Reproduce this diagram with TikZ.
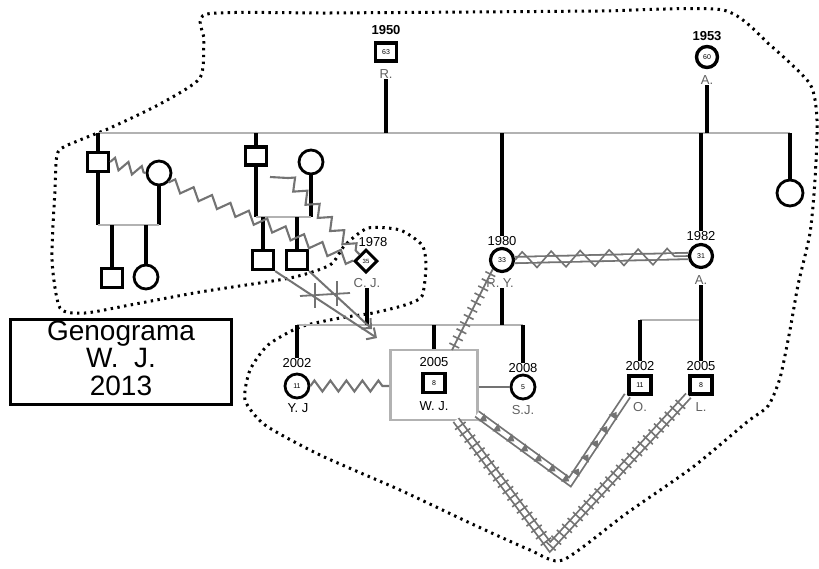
\documentclass[tikz,border=0pt]{standalone}
\usepackage{fontspec}
\setmainfont{Liberation Sans}
\usetikzlibrary{shapes.geometric,decorations.pathmorphing,decorations.markings,arrows.meta}
\definecolor{zg}{gray}{0.45}
\definecolor{hl}{gray}{0.70}
\definecolor{nm}{gray}{0.38}
\begin{document}
\begin{tikzpicture}[x=1pt,y=-1pt,
  sq/.style={draw=black,line width=3.2pt,minimum width=21pt,minimum height=19pt,inner sep=0pt,font=\fontsize{7}{7}\selectfont},
  ci/.style={draw=black,line width=2.8pt,circle,minimum size=24pt,inner sep=0pt,font=\fontsize{7}{7}\selectfont},
  pl/.style={draw=black,line width=3.1pt},
  hline/.style={draw=hl,line width=2.8pt},
  yr/.style={font=\fontsize{13}{13}\selectfont,inner sep=0.5pt},
  yrb/.style={font=\fontsize{13}{13}\selectfont\bfseries,inner sep=0.5pt},
  nmx/.style={font=\fontsize{13}{13}\selectfont,text=nm,inner sep=0.5pt},
  nmb/.style={font=\fontsize{13}{13}\selectfont,text=black,inner sep=0.5pt},
  zz/.style={draw=zg,line width=2.1pt,decorate,decoration={zigzag,segment length=#1,amplitude=5.5pt}},
  zz/.default=16pt,
  bnd/.style={draw=black,line width=3pt,dash pattern=on 2.4pt off 4.4pt},
  dbl/.style={draw=zg,line width=1.8pt,double=white,double distance=4.5pt},
  tri/.style={postaction={decorate,decoration={markings,mark=between positions 0.04 and 0.97 step 17pt with {\fill[zg] (3.5pt,0)--(-3pt,5pt)--(-3pt,-5pt)--cycle;}}}},
  rung/.style={postaction={decorate,decoration={markings,mark=between positions 0.02 and 0.98 step 8pt with {\draw[zg,line width=1.6pt] (0,-6.5pt)--(0,6.5pt);}}}},
  tick/.style={postaction={decorate,decoration={markings,mark=between positions 0.06 and 0.97 step 8pt with {\draw[zg,line width=1.6pt] (0,-5.5pt)--(0,5.5pt);}}}},
  arr/.style={draw=zg,line width=2pt,-{Straight Barb[length=7pt,width=14pt]}}
]
\useasboundingbox (0,0) rectangle (819,568);

% dotted boundary
\draw[bnd] plot[smooth cycle,tension=0.4] coordinates {
 (207,14) (330,13) (470,12) (600,11) (723,10) (770,45) (810,84) (817,120) (815,180)
 (810,233) (798,285) (790,330) (780,378) (768,406) (747,422) (693,467) (627,513) (563,560) (530,550) (470,523)
 (400,490) (320,455) (265,425) (245,400) (250,370) (268,345) (300,327) (340,318) (373,313)
 (405,305) (422,296) (426,265) (422,245) (400,230) (368,228) (345,245) (330,265) (290,278)
 (200,292) (130,305) (85,313) (60,308) (52,260) (55,190) (58,152) (80,140) (110,128)
 (160,104) (200,78) (204,40)};

% legend
\node[draw=black,line width=3.8pt,minimum width=221pt,minimum height=85pt] (leg) at (121,362) {};
\node[font=\fontsize{28}{28}\selectfont,anchor=base,inner sep=0pt] (lg1) at (121,340) {Genograma};
\node[font=\fontsize{28}{28}\selectfont,anchor=base,inner sep=0pt] (lg2) at (121,367) {W.\ \ J.};
\node[font=\fontsize{28}{28}\selectfont,anchor=base,inner sep=0pt] (lg3) at (121,395) {2013};

% top generation
\node[sq,line width=3.4pt,minimum width=21pt,minimum height=18pt] (R) at (386,52) {63};
\node[yrb] (Ryr) at (386,30) {1950};
\node[nmx] (Rn) at (386,74) {R.};
\node[ci,line width=3.4pt,minimum size=21pt] (A1) at (707,57) {60};
\node[yrb] (A1yr) at (707,36) {1953};
\node[nmx] (A1n) at (707,80) {A.};

\coordinate (T1) at (98,133);
\coordinate (T2) at (790,133);
\coordinate (TR) at (386,133);
\coordinate (TA) at (707,133);
\draw[hline] (T1) -- (T2);
\draw[pl] (Rn.south) -- (TR);
\draw[pl] (A1n.south) -- (TA);

% siblings of the second generation
\node[sq] (s1) at (98,162) {};
\node[ci] (w1) at (159,173) {};
\node[sq] (c1a) at (112,278) {};
\node[ci] (c1b) at (146,277) {};
\node[sq,minimum height=18pt] (s2) at (256,156) {};
\node[ci] (w2) at (311,162) {};
\node[sq] (c2a) at (263,260) {};
\node[sq] (c2b) at (297,260) {};
\node[ci,minimum size=26pt] (sis) at (790,193) {};
\draw[pl] (T1) -- (s1.north);
\draw[pl] (s2.north |- T1) -- (s2.north);
\draw[pl] (T2) -- (sis.north);

% family 1
\coordinate (f1a) at (98,225);
\coordinate (f1b) at (159,225);
\draw[pl] (s1.south) -- (f1a);
\draw[pl] (w1.south) -- (f1b);
\draw[hline] (f1a) -- (f1b);
\draw[pl] (c1a.north |- f1a) -- (c1a.north);
\draw[pl] (c1b.north |- f1a) -- (c1b.north);

% family 2
\coordinate (f2a) at (256,217);
\coordinate (f2b) at (311,217);
\draw[pl] (s2.south) -- (f2a);
\draw[pl] (w2.south) -- (f2b);
\draw[hline] (f2a) -- (f2b);
\draw[pl] (c2a.north |- f2a) -- (c2a.north);
\draw[pl] (c2b.north |- f2a) -- (c2b.north);

% R.Y. and A. (1982)
\node[ci,line width=3.2pt,minimum size=23pt] (RY) at (502,260) {33};
\node[yr] (RYyr) at (502,241) {1980};
\node[nmx] (RYn) at (500,283) {R. Y.};
\node[ci,line width=3.2pt,minimum size=23pt] (A2) at (701,256) {31};
\node[yr] (A2yr) at (701,236) {1982};
\node[nmx] (A2n) at (701,280) {A.};
\draw[pl] (RYyr.north |- T1) -- (RYyr.north);
\draw[pl] (A2yr.north |- T1) -- (A2yr.north);

% C. J.
\node[diamond,draw=black,line width=3pt,minimum width=23pt,minimum height=23pt,inner sep=0pt,font=\fontsize{6}{6}\selectfont] (CJ) at (366,261) {35};
\node[yr] (CJyr) at (373,242) {1978};
\node[nmx] (CJn) at (367,283) {C. J.};

% third generation
\coordinate (b1) at (297,325);
\coordinate (b2) at (523,325);
\draw[hline] (b1) -- (b2);
\draw[pl] (CJn.south) -- (CJn.south |- b1);
\draw[pl] (RYn.south -| RY) -- (RY |- b1);

\node[ci] (YJ) at (297,386) {11};
\node[yr] (YJyr) at (297,363) {2002};
\node[nmb] (YJn) at (298,408) {Y. J};
\node[draw=hl,line width=2.8pt,minimum width=87pt,minimum height=70pt] (WJb) at (434,385) {};
\node[sq,line width=3.6pt,minimum width=22pt,minimum height=19pt] (WJ) at (434,383) {8};
\node[yr] (WJyr) at (434,362) {2005};
\node[nmb] (WJn) at (434,406) {W. J.};
\node[ci] (SJ) at (523,387) {5};
\node[yr] (SJyr) at (523,368) {2008};
\node[nmx] (SJn) at (523,410) {S.J.};
\draw[pl] (b1) -- (YJyr.north);
\draw[pl] (WJb.north |- b1) -- (WJb.north);
\draw[pl] (b2) -- (SJyr.north);

\node[sq,minimum width=22pt,minimum height=18pt] (O) at (640,385) {11};
\node[yr] (Oyr) at (640,366) {2002};
\node[nmx] (On) at (640,407) {O.};
\node[sq,minimum width=22pt,minimum height=18pt] (L) at (701,385) {8};
\node[yr] (Lyr) at (701,366) {2005};
\node[nmx] (Ln) at (701,407) {L.};
\coordinate (a1) at (640,320);
\coordinate (a2) at (701,320);
\draw[hline] (a1) -- (a2);
\draw[pl] (A2n.south) -- (Lyr.north);
\draw[pl] (a1) -- (Oyr.north);

% relations: zigzags
\draw[zz=14pt] (s1.east) -- (w1.west);
\draw[zz=20pt] (w1.south east) -- (CJ.west);
\coordinate (z2) at (270,177);
\coordinate (z2b) at (288,178);
\draw[draw=zg,line width=2.1pt] (z2) -- (z2b);
\draw[zz=18pt] (z2b) -- (CJ.north west);
\draw[zz=16pt] (YJ.east) -- (WJb.west |- YJ.east);
\draw[draw=zg,line width=1.8pt] (WJb.east |- SJ) -- (SJ.west);

% R.Y. -- A.
\draw[dbl] (RY.east) -- (A2.west);
\draw[draw=zg,line width=1.6pt,decorate,decoration={zigzag,segment length=29pt,amplitude=8pt}] (RY.east) -- (A2.west);

% R.Y. -- W.J.
\coordinate (rw) at (452,350);
\draw[draw=zg,line width=1.8pt,tick] (RY.south west) -- (rw);

% arrows from the cousins
\coordinate (tipA) at (377,338);
\coordinate (tipB) at (372,329);
\draw[arr] (c2a.south east) -- (tipA);
\draw[arr] (c2b.south east) -- (tipB);
\draw[draw=zg,line width=1.8pt] (300,296) -- (350,293);
\draw[draw=zg,line width=1.8pt] (315,283) -- (315,308);
\draw[draw=zg,line width=1.8pt] (337,281) -- (337,306);

% V-shaped relations
\coordinate (v1) at (570,482);
\coordinate (v2) at (550,547);
\coordinate (wo) at (477,414);
\coordinate (wl) at (456,420);
\draw[dbl] (wo) -- (v1) -- (O.south west);
\path[tri] (wo) -- (v1) -- (O.south west);
\draw[dbl] (wl) -- (v2) -- (L.south west);
\path[rung] (wl) -- (v2) -- (L.south west);
\end{tikzpicture}
\end{document}
